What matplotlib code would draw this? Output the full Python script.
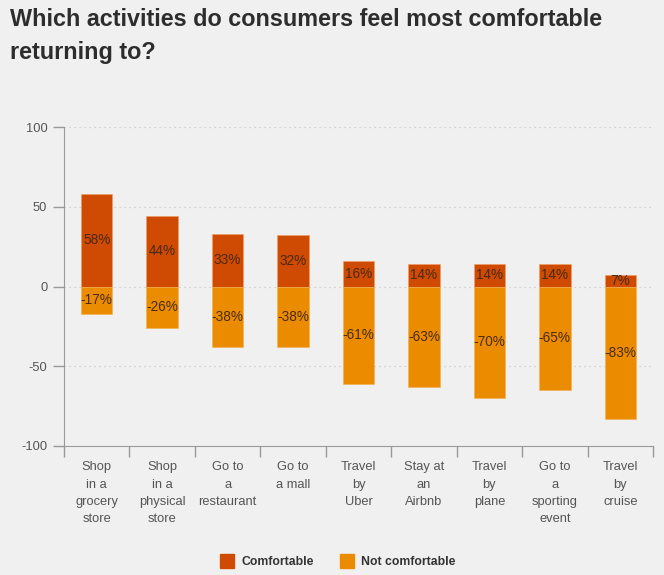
import matplotlib
matplotlib.use("Agg")
import matplotlib.pyplot as plt
from matplotlib.patches import Patch
import numpy as np

categories = ["Shop\nin a\ngrocery\nstore", "Shop\nin a\nphysical\nstore", "Go to\na\nrestaurant",
              "Go to\na mall", "Travel\nby\nUber", "Stay at\nan\nAirbnb", "Travel\nby\nplane",
              "Go to\na\nsporting\nevent", "Travel\nby\ncruise"]
comfortable = [58, 44, 33, 32, 16, 14, 14, 14, 7]
not_comfortable = [-17, -26, -38, -38, -61, -63, -70, -65, -83]
yticks = [100, 50, 0, -50, -100]
series_names = ["Comfortable", "Not comfortable"]
title_lines = ["Which activities do consumers feel most comfortable", "returning to?"]

C_COMF = "#cf4a02"
C_NOT = "#eb8c00"
BG = "#f0f0f0"

plt.rcParams['font.family'] = ['Liberation Sans', 'DejaVu Sans']

fig = plt.figure(figsize=(6.64, 5.75), dpi=100, facecolor=BG)
ax = fig.add_axes([64/664, 1-446/575, (653-64)/664, (446-127)/575], facecolor=BG)

x = np.arange(len(categories))
w = 0.48
ax.bar(x, comfortable, width=w, color=C_COMF, edgecolor="#f2a060", linewidth=0.4, zorder=3)
ax.bar(x, not_comfortable, width=w, color=C_NOT, edgecolor="#f5b050", linewidth=0.4, zorder=3)

lab_col = "#4a2a12"
for xi, c, n in zip(x, comfortable, not_comfortable):
    ax.text(xi, c/2, f"{c}%", ha="center", va="center", fontsize=9.8, color=lab_col, zorder=4)
    ax.text(xi, n/2, f"{n}%", ha="center", va="center", fontsize=9.8, color=lab_col, zorder=4)

ax.set_xlim(-0.5, len(categories)-0.5)
ax.set_ylim(-100, 100)
ax.set_yticks(yticks)
ax.set_yticklabels([str(v) for v in yticks])
for v in yticks[:-1]:
    ax.axhline(v, color="#c8c8c8", linestyle=(0, (1, 3)), linewidth=0.9, zorder=1)

ax.set_xticks(x)
ax.set_xticklabels(categories, fontsize=9.3, color="#555555", linespacing=1.6, va="top")
ax.set_xticks(np.arange(-0.5, len(categories), 1), minor=True)
ax.tick_params(axis="x", which="major", length=0, pad=11)
ax.tick_params(axis="x", which="minor", length=8, color="#999999", width=1)
ax.tick_params(axis="y", length=8, color="#999999", width=1, labelsize=9.3, labelcolor="#555555", pad=4)

for s in ["top", "right"]:
    ax.spines[s].set_visible(False)
ax.spines["left"].set_color("#999999")
ax.spines["bottom"].set_color("#999999")

for i, (line, ypx) in enumerate(zip(title_lines, [20, 52])):
    fig.text(10/664, 1-ypx/575, line, fontsize=16.8, fontweight="bold", color="#2d2d2d",
             ha="left", va="center")

handles = [Patch(facecolor=C_COMF, edgecolor=C_COMF), Patch(facecolor=C_NOT, edgecolor=C_NOT)]
leg = fig.legend(handles, series_names, loc="center", bbox_to_anchor=(338/664, 1-561/575), ncol=2,
                 frameon=False, handlelength=1.1, handleheight=1.4, columnspacing=2.2, handletextpad=0.6,
                 prop={"size": 8.8, "weight": "bold"})
for t in leg.get_texts():
    t.set_color("#333333")

fig.savefig("out.png", dpi=100, facecolor=BG)
